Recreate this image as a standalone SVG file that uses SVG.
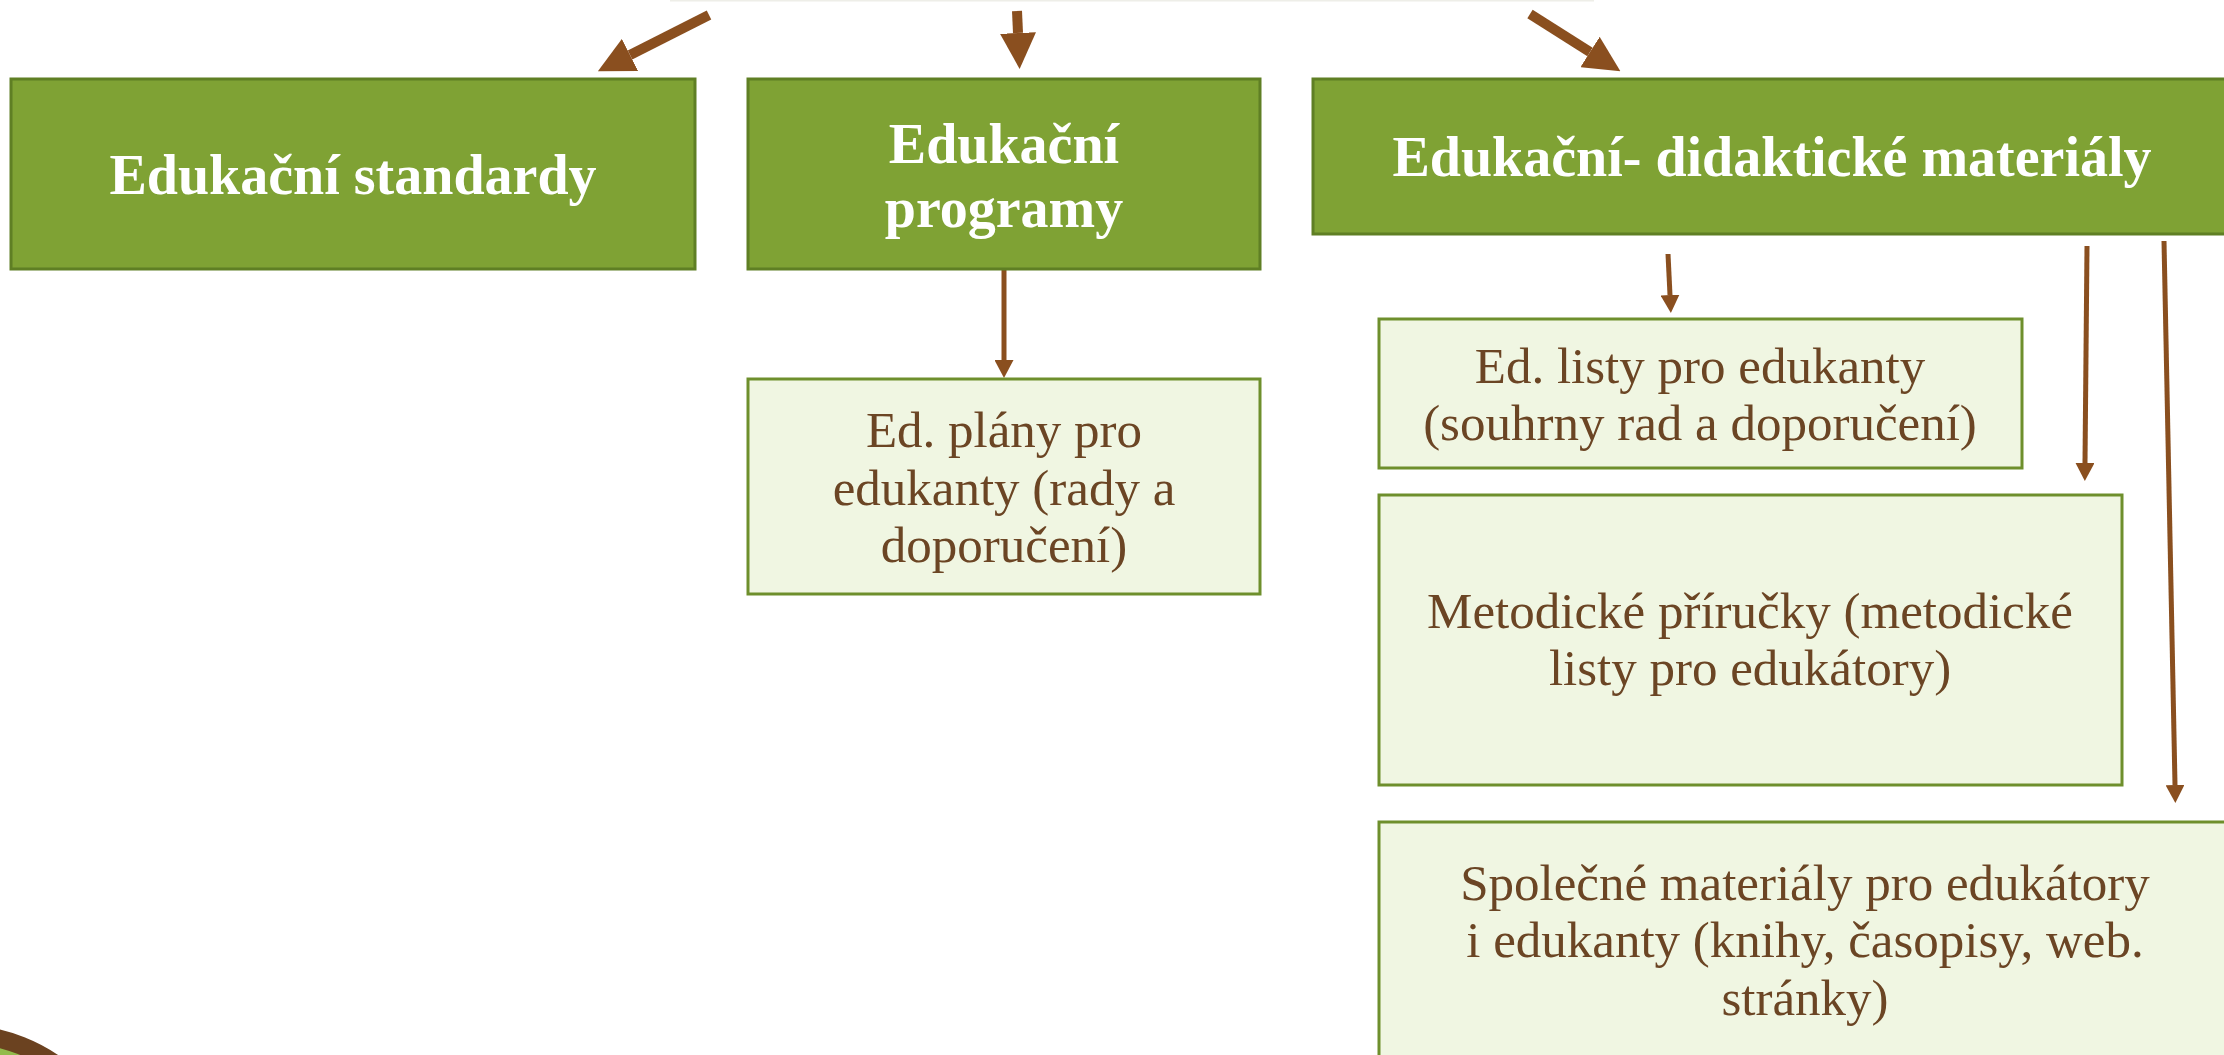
<svg xmlns="http://www.w3.org/2000/svg" width="2224" height="1055" viewBox="0 0 2224 1055">
<defs>
<style>
.hdr{fill:#7fa234;stroke:#5f7f24;stroke-width:3}
.sub{fill:#f0f6e2;stroke:#6e8f2c;stroke-width:3}
.ht{font-family:"Liberation Serif",serif;font-weight:bold;font-size:56px;fill:#ffffff;text-anchor:middle}
.st{font-family:"Liberation Serif",serif;font-size:51px;fill:#6b4524;text-anchor:middle}
.thick{stroke:#8a4f1f;stroke-width:10;fill:none;marker-end:url(#bigHead)}
.thin{stroke:#8a4f1f;stroke-width:5;fill:none;marker-end:url(#smallHead)}
</style>
<marker id="bigHead" markerUnits="userSpaceOnUse" markerWidth="36" markerHeight="36" refX="0" refY="18" orient="auto" viewBox="0 0 36 36">
<path d="M0,0 L36,18 L0,36 z" fill="#8a4f1f"/>
</marker>
<marker id="smallHead" markerUnits="userSpaceOnUse" markerWidth="18" markerHeight="19" refX="0" refY="9.5" orient="auto" viewBox="0 0 18 19">
<path d="M0,0 L18,9.5 L0,19 z" fill="#8a4f1f"/>
</marker>
</defs>
<rect x="0" y="0" width="2224" height="1055" fill="#ffffff"/>
<line x1="670" y1="0.5" x2="1594" y2="0.5" stroke="#eeeee8" stroke-width="2"/>
<g id="decoration">
<circle cx="-40" cy="1200" r="166" fill="#92bb4c" stroke="#6b4220" stroke-width="18"/>
</g>
<g id="connectors">
<path class="thick" d="M709,15 L630,55"/>
<path class="thick" d="M1017,11 L1018,33"/>
<path class="thick" d="M1530,14 L1590,52"/>
<path class="thin" d="M1004,270 L1004,360"/>
<path class="thin" d="M1668,254 L1670,295"/>
<path class="thin" d="M2087,246 L2085,463"/>
<path class="thin" d="M2164,241 L2175,785"/>
</g>
<g id="node-standardy">
<rect class="hdr" x="11" y="79" width="684" height="190"/>
<text class="ht" x="353" y="194">Edukační standardy</text>
</g>
<g id="node-programy">
<rect class="hdr" x="748" y="79" width="512" height="190"/>
<text class="ht" x="1004" y="163">Edukační</text>
<text class="ht" x="1004" y="227">programy</text>
</g>
<g id="node-materialy">
<rect class="hdr" x="1313" y="79" width="918" height="155"/>
<text class="ht" x="1772" y="176">Edukační- didaktické materiály</text>
</g>
<g id="node-plany">
<rect class="sub" x="748" y="379" width="512" height="215"/>
<text class="st" x="1004" y="447">Ed. plány pro</text>
<text class="st" x="1004" y="505">edukanty (rady a</text>
<text class="st" x="1004" y="562">doporučení)</text>
</g>
<g id="node-listy">
<rect class="sub" x="1379" y="319" width="643" height="149"/>
<text class="st" x="1700" y="383">Ed. listy pro edukanty</text>
<text class="st" x="1700" y="440">(souhrny rad a doporučení)</text>
</g>
<g id="node-prirucky">
<rect class="sub" x="1379" y="495" width="743" height="290"/>
<text class="st" x="1750" y="628">Metodické příručky (metodické</text>
<text class="st" x="1750" y="685">listy pro edukátory)</text>
</g>
<g id="node-spolecne">
<rect class="sub" x="1379" y="822" width="853" height="260"/>
<text class="st" x="1805" y="900">Společné materiály pro edukátory</text>
<text class="st" x="1805" y="957">i edukanty (knihy, časopisy, web.</text>
<text class="st" x="1805" y="1015">stránky)</text>
</g>
</svg>
